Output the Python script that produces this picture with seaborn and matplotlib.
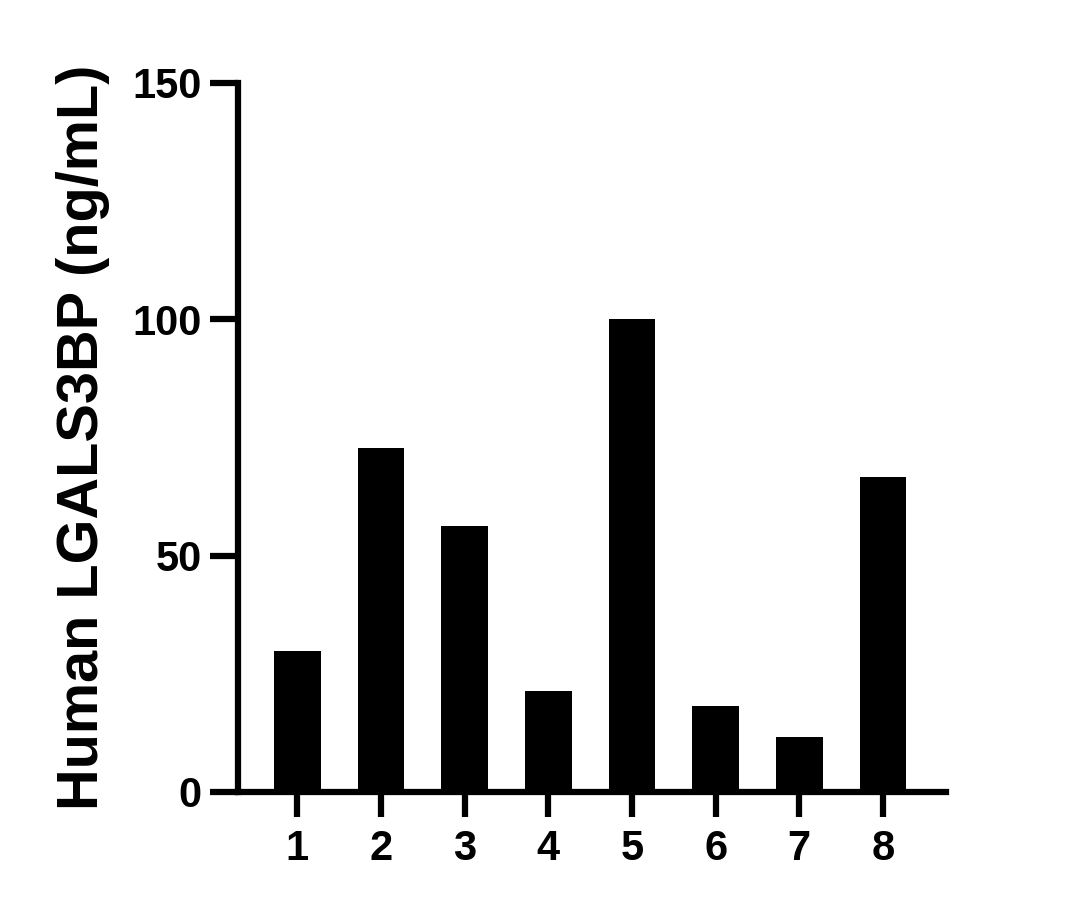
import pandas as pd
import seaborn as sns
import matplotlib.pyplot as plt

# bar values
samples = ["1", "2", "3", "4", "5", "6", "7", "8"]
lgals3bp = [29.8, 72.8, 56.3, 21.4, 100.0, 18.2, 11.6, 66.6]
y_ticks = [0, 50, 100, 150]

df = pd.DataFrame({"sample": samples, "value": lgals3bp})

sns.set_style("ticks")
plt.rcParams['font.family'] = ['Liberation Sans', 'DejaVu Sans']
plt.rcParams['font.weight'] = 'bold'
plt.rcParams['text.color'] = 'black'
plt.rcParams['axes.labelcolor'] = 'black'

fig = plt.figure(figsize=(10.82, 9.08), dpi=100)
ax = fig.add_axes([0.22, 0.1278, 0.654, 0.7808])

sns.barplot(x="sample", y="value", data=df, color="black", saturation=1,
            width=0.56, edgecolor="black", linewidth=0, ax=ax)

ax.set_ylim(0, 150)
ax.set_xlim(-0.71, 7.75)
ax.set_yticks(y_ticks)
ax.set_yticklabels([str(t) for t in y_ticks])

sns.despine(ax=ax)
for side in ["left", "bottom"]:
    ax.spines[side].set_linewidth(4.5)
    ax.spines[side].set_color("black")

ax.tick_params(axis="y", length=20, width=4.5, pad=6, labelsize=30, colors="black")
ax.tick_params(axis="x", length=18, width=4.5, pad=9, labelsize=30, colors="black")
for lab in ax.get_xticklabels() + ax.get_yticklabels():
    lab.set_fontweight("bold")

ax.set_xlabel("")
ax.set_ylabel("Human LGALS3BP (ng/mL)", fontsize=41.5, fontweight="bold",
              color="black", labelpad=16)

fig.savefig("out.png", dpi=100)
